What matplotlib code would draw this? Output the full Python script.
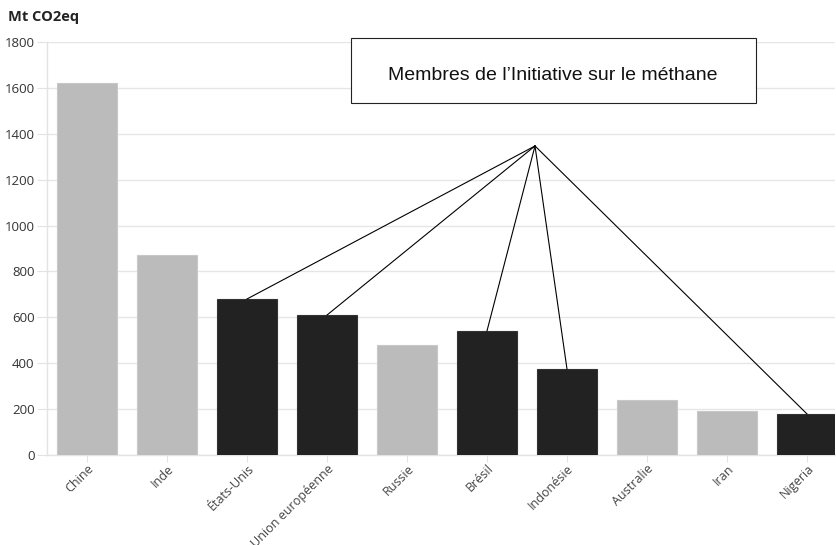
import matplotlib
matplotlib.use("Agg")
import matplotlib.pyplot as plt
from matplotlib.patches import Rectangle

# --- data ---
pays = ["Chine", "Inde", "États-Unis", "Union européenne", "Russie",
        "Brésil", "Indonésie", "Australie", "Iran", "Nigeria"]
emissions = [1621, 872, 680, 610, 480, 541, 375, 240, 192, 179]
membres = [False, False, True, True, False, True, True, False, False, True]
y_ticks = [0, 200, 400, 600, 800, 1000, 1200, 1400, 1600, 1800]

GRIS = "#bbbbbb"
NOIR = "#222222"

plt.rcParams["font.family"] = ["Open Sans", "DejaVu Sans"]

fig = plt.figure(figsize=(8.36, 5.45), dpi=100)
ax = fig.add_axes([0.0562, 0.1651, 0.9426, 0.7578])

x = list(range(len(pays)))
couleurs = [NOIR if m else GRIS for m in membres]
bords = ["#333333" if m else "#c8c8c8" for m in membres]
ax.bar(x, emissions, width=0.74, color=couleurs, edgecolor=bords,
       linewidth=0.8, zorder=3)

ax.set_xlim(-0.5, 9.35)
ax.set_ylim(0, 1800)
ax.set_yticks(y_ticks)
ax.set_xticks(x)
ax.set_xticklabels(pays, rotation=45, ha="right", rotation_mode="anchor",
                   fontsize=9.0, color="#444444")
ax.tick_params(axis="y", length=7, color="#e3e3e3", labelsize=9.5,
               labelcolor="#333333", pad=2)
ax.tick_params(axis="x", length=5, color="#e3e3e3", pad=0)
ax.grid(axis="y", color="#e6e6e6", linewidth=1, zorder=0)
for s in ["top", "right"]:
    ax.spines[s].set_visible(False)
ax.spines["left"].set_color("#e3e3e3")
ax.spines["bottom"].set_color("#e3e3e3")
ax.spines["left"].set_linewidth(1)
ax.spines["bottom"].set_linewidth(1)

fig.text(0.0096, 0.982, "Mt CO2eq", fontsize=10.5, fontweight="bold",
         color="#222222", va="top", ha="left")

# annotation box
box = Rectangle((351 / 836, 1 - 103 / 545), 405 / 836, 65 / 545,
                transform=fig.transFigure, facecolor="white",
                edgecolor="#222222", linewidth=0.8, zorder=5)
fig.patches.append(box)
fig.text(553 / 836, 1 - 76 / 545, "Membres de l\u2019Initiative sur le méthane",
         fontsize=14, family=["Liberation Sans", "DejaVu Sans"],
         ha="center", va="center", color="#111111", zorder=6)

# lines from a common point to member bar tops
px, py = 5.6, 1347
for i, (v, m) in enumerate(zip(emissions, membres)):
    if m:
        ax.plot([px, i], [py, v], color="black", linewidth=0.8, zorder=4,
                clip_on=False)

fig.savefig("out.png", dpi=100)
